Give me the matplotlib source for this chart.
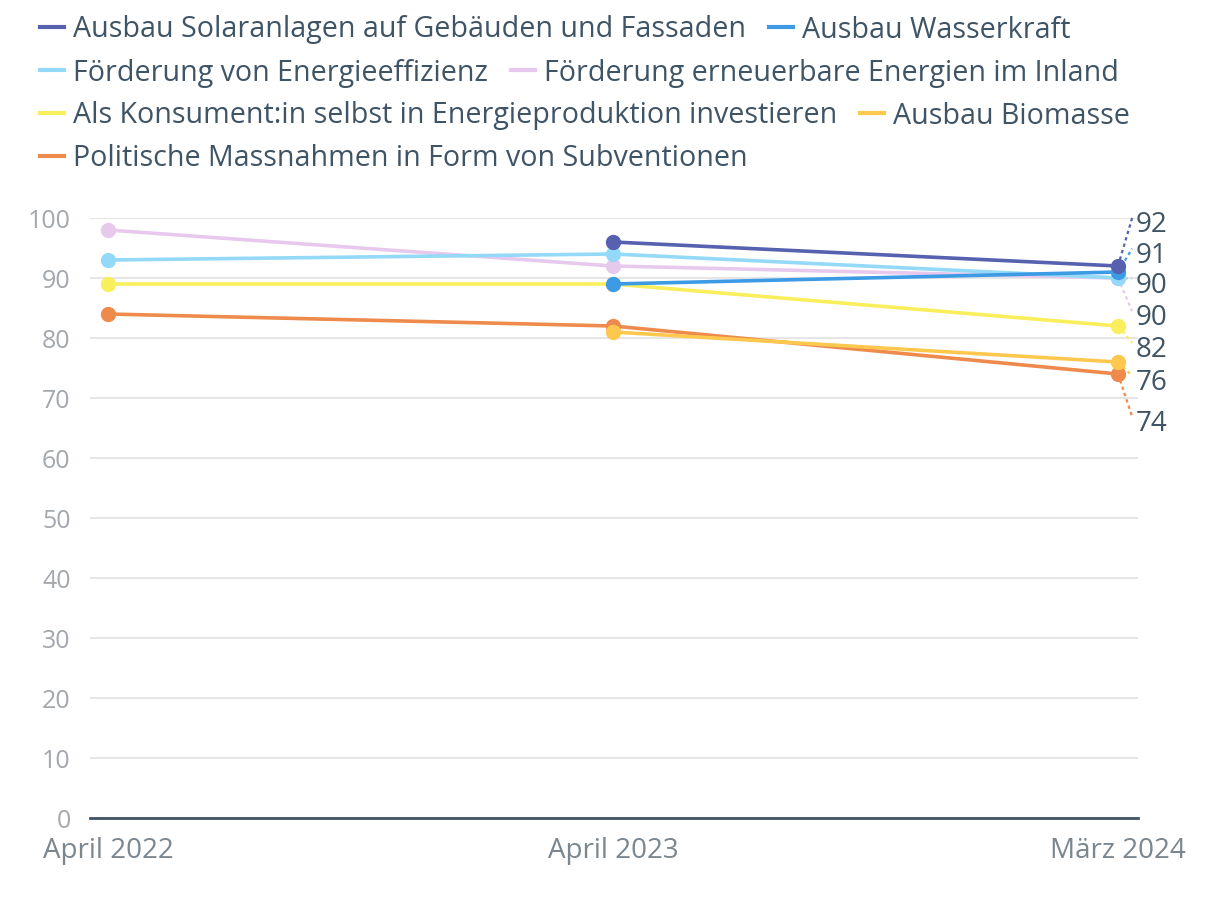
import numpy as np
from matplotlib import pyplot as plt
from matplotlib.lines import Line2D

plt.rcParams['font.family'] = ['Open Sans', 'DejaVu Sans']

dates = ['April 2022', 'April 2023', 'März 2024']

names = ['Ausbau Solaranlagen auf Gebäuden und Fassaden',
         'Ausbau Wasserkraft',
         'Förderung von Energieeffizienz',
         'Förderung erneuerbare Energien im Inland',
         'Als Konsument:in selbst in Energieproduktion investieren',
         'Ausbau Biomasse',
         'Politische Massnahmen in Form von Subventionen']

solar = [np.nan, 96, 92]
wasser = [np.nan, 89, 91]
effizienz = [93, 94, 90]
inland = [98, 92, 90]
konsument = [89, 89, 82]
biomasse = [np.nan, 81, 76]
subvention = [84, 82, 74]

colors = ['#5661b0', '#3d9be6', '#94d9f7', '#e7c9ee', '#f9ef5d', '#fec84f', '#ee8a4c']
series = [solar, wasser, effizienz, inland, konsument, biomasse, subvention]

# label positions at the right end (data units), spread to avoid overlap
label_y = [98.8, 93.7, 88.7, 83.3, 78.0, 72.5, 65.7]

text_col = '#3f5465'

fig = plt.figure(figsize=(12.2, 9.16), dpi=100)
ax = fig.add_axes([90/1220, 1-818/916, (1138-90)/1220, 600/916])

x = np.arange(len(dates))
# draw back to front so the first series sits on top
order = [3, 2, 4, 5, 6, 1, 0]
for i in order:
    y = np.array(series[i], dtype=float)
    ax.plot(x, y, color=colors[i], lw=2.6, marker='o', ms=10,
            clip_on=False, zorder=3 + (7 - i) * 0.1)

for i in range(len(series)):
    yend = series[i][-1]
    ax.plot([x[-1], 2.028], [yend, label_y[i] + 1.2], ls=(0, (1.5, 1.5)),
            color=colors[i], lw=1.6, clip_on=False, zorder=2)
    ax.text(2.035, label_y[i], str(yend), fontsize=20, color=text_col,
            va='center', ha='left')

ax.set_xlim(-0.0356, 2.0396)
ax.set_ylim(0, 100)
ax.set_yticks(np.arange(0, 101, 10))
ax.set_xticks(x)
ax.set_xticklabels(dates)
ax.tick_params(axis='y', length=0, labelsize=18, labelcolor='#a3a8ad', pad=14)
ax.tick_params(axis='x', length=0, labelsize=20, labelcolor='#7b868f', pad=14)
ax.grid(axis='y', color='#e6e6e6', lw=1.5)
ax.set_axisbelow(True)
for s in ['top', 'right', 'left']:
    ax.spines[s].set_visible(False)
ax.spines['bottom'].set_color(text_col)
ax.spines['bottom'].set_linewidth(2)
ax.spines['bottom'].set_zorder(5)

# legend rows like the original layout
rows = [[0, 1], [2, 3], [4, 5], [6]]
row_y = [30, 73, 116, 159]
for r, ry in zip(rows, row_y):
    handles = [Line2D([], [], color=colors[i], lw=3) for i in r]
    leg = fig.legend(handles, [names[i] for i in r], loc='center left',
                     bbox_to_anchor=(40/1220, 1 - ry/916), ncol=len(r),
                     frameon=False, fontsize=20.6, handlelength=0.85,
                     handletextpad=0.3, columnspacing=0.8,
                     borderaxespad=0, borderpad=0)
    for t in leg.get_texts():
        t.set_color(text_col)

fig.savefig('out.png', dpi=100)
